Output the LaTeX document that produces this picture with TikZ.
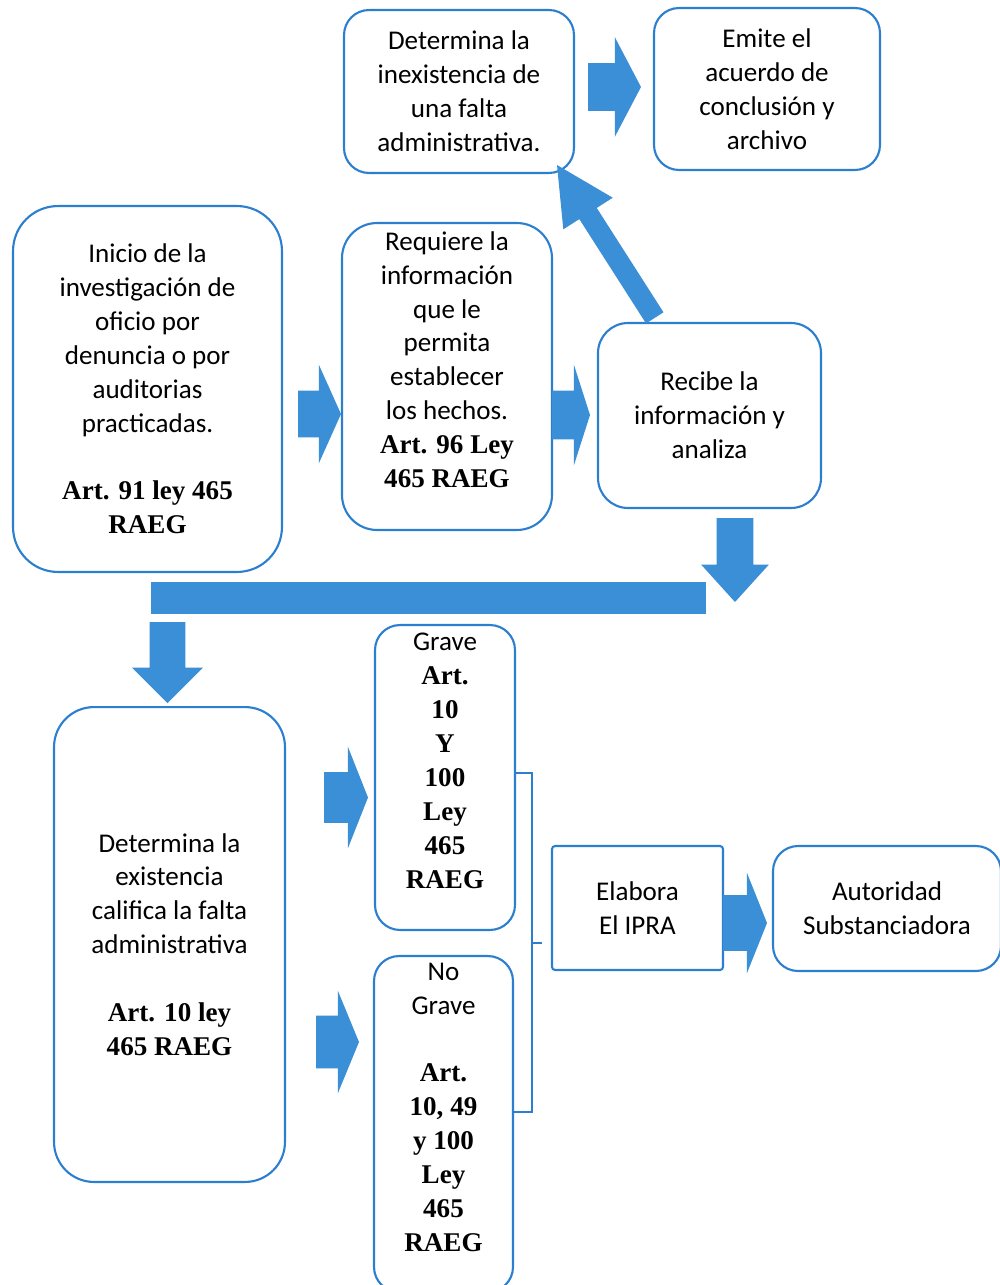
\documentclass[tikz,border=0pt]{standalone}
\usepackage{fontspec}
\setmainfont{Carlito}
\newfontfamily\artfont{Liberation Serif}
\usepackage{tikz}
\usetikzlibrary{shapes, arrows.meta, positioning}
\usepackage{xcolor}
\definecolor{boxblue}{RGB}{44,126,206}
\definecolor{arrowblue}{RGB}{58,143,214}
\newcommand{\art}[1]{{\artfont\bfseries #1}}

\begin{document}
\begin{tikzpicture}[x=0.02cm, y=-0.02cm, font=\fontsize{15.4}{19.3}\selectfont,
  box/.style={draw=boxblue, line width=1.2pt, fill=white, align=center, inner sep=0pt},
  blk/.style={single arrow, fill=arrowblue, inner sep=0pt, outer sep=0pt, text depth=0pt, text height=#1, anchor=tip},
  bracket/.style={draw=boxblue, line width=1.4pt}]

\useasboundingbox (0,0) rectangle (1000,1285);
\clip (0,0) rectangle (1000,1285);

\node[box, minimum width=4.6cm, minimum height=3.26cm, rounded corners=0.5cm] (inex) at (459,91.5) {Determina la\\inexistencia de\\una falta\\administrativa.};
\node[box, minimum width=4.52cm, minimum height=3.24cm, rounded corners=0.5cm] (emite) at (767,89) {Emite el\\acuerdo de\\conclusión y\\archivo};
\node[box, minimum width=5.38cm, minimum height=7.32cm, rounded corners=0.9cm] (inicio) at (147.5,389) {Inicio de la\\investigación de\\oficio por\\denuncia o por\\auditorias\\practicadas.\\\mbox{}\\\art{Art. 91 ley 465}\\\art{RAEG}};
\node[box, minimum width=4.2cm, minimum height=6.14cm, rounded corners=0.7cm] (requiere) at (447,376.5) {Requiere la\\información\\que le\\permita\\establecer\\los hechos.\\\art{Art. 96 Ley}\\\art{465 RAEG}\\\mbox{}};
\node[box, minimum width=4.46cm, minimum height=3.7cm, rounded corners=0.6cm] (recibe) at (709.5,415.5) {Recibe la\\información y\\analiza};
\node[box, minimum width=4.62cm, minimum height=9.5cm, rounded corners=0.8cm] (existe) at (169.5,944.5) {Determina la\\existencia\\califica la falta\\administrativa\\\mbox{}\\\art{Art. 10 ley}\\\art{465 RAEG}};
\node[box, minimum width=2.8cm, minimum height=6.1cm, rounded corners=0.5cm] (grave) at (445,777.5) {Grave\\\art{Art.}\\\art{10}\\\art{Y}\\\art{100}\\\art{Ley}\\\art{465}\\\art{RAEG}\\\mbox{}};
\node[box, minimum width=2.78cm, minimum height=6.72cm, rounded corners=0.5cm] (nograve) at (443.5,1124) {No\\Grave\\\mbox{}\\\art{Art.}\\\art{10, 49}\\\art{y 100}\\\art{Ley}\\\art{465}\\\art{RAEG}\\\mbox{}};
\node[box, minimum width=3.42cm, minimum height=2.48cm, rounded corners=0.06cm] (elabora) at (637.5,908) {Elabora\\El IPRA};
\node[box, minimum width=4.56cm, minimum height=2.5cm, rounded corners=0.5cm] (autoridad) at (887,908.5) {Autoridad\\Substanciadora};

\node[blk=0.94cm, minimum height=1.06cm, minimum width=1.98cm, single arrow head extend=0.52cm, single arrow tip angle=124.6] (a1) at (641,87) {};
\node[blk=0.92cm, minimum height=0.86cm, minimum width=1.96cm, single arrow head extend=0.52cm, single arrow tip angle=131.6] (a2) at (341,414) {};
\node[blk=0.96cm, minimum height=0.76cm, minimum width=2.0cm, single arrow head extend=0.52cm, single arrow tip angle=144.5] (a3) at (590,415) {};
\node[blk=0.4cm, minimum height=3.63cm, minimum width=1.16cm, single arrow head extend=0.38cm, single arrow tip angle=54, rotate=122.6] (a4) at (557,165) {};
\node[blk=0.72cm, minimum height=1.68cm, minimum width=1.34cm, single arrow head extend=0.31cm, single arrow tip angle=84.3, rotate=-90] (a5) at (735,602) {};
\node[fill=arrowblue, minimum width=11.1cm, minimum height=0.64cm, inner sep=0pt] (bar) at (428.5,598) {};
\node[blk=0.7cm, minimum height=1.62cm, minimum width=1.4cm, single arrow head extend=0.35cm, single arrow tip angle=90, rotate=-90] (a6) at (167.5,703) {};
\node[blk=1.0cm, minimum height=0.88cm, minimum width=2.02cm, single arrow head extend=0.51cm, single arrow tip angle=136.8] (a7) at (368,797.5) {};
\node[blk=1.04cm, minimum height=0.86cm, minimum width=2.04cm, single arrow head extend=0.5cm, single arrow tip angle=135.2] (a8) at (359,1042) {};
\node[blk=1.1cm, minimum height=0.88cm, minimum width=2.0cm, single arrow head extend=0.45cm, single arrow tip angle=136.4] (a9) at (767,923) {};

\coordinate (brk) at (531,943);
\draw[bracket] ([yshift=0.09cm]grave.east) -- ++(16,0) |- ([yshift=0.24cm]nograve.east);
\draw[bracket] (brk) -- ++(11,0);

\end{tikzpicture}
\end{document}
